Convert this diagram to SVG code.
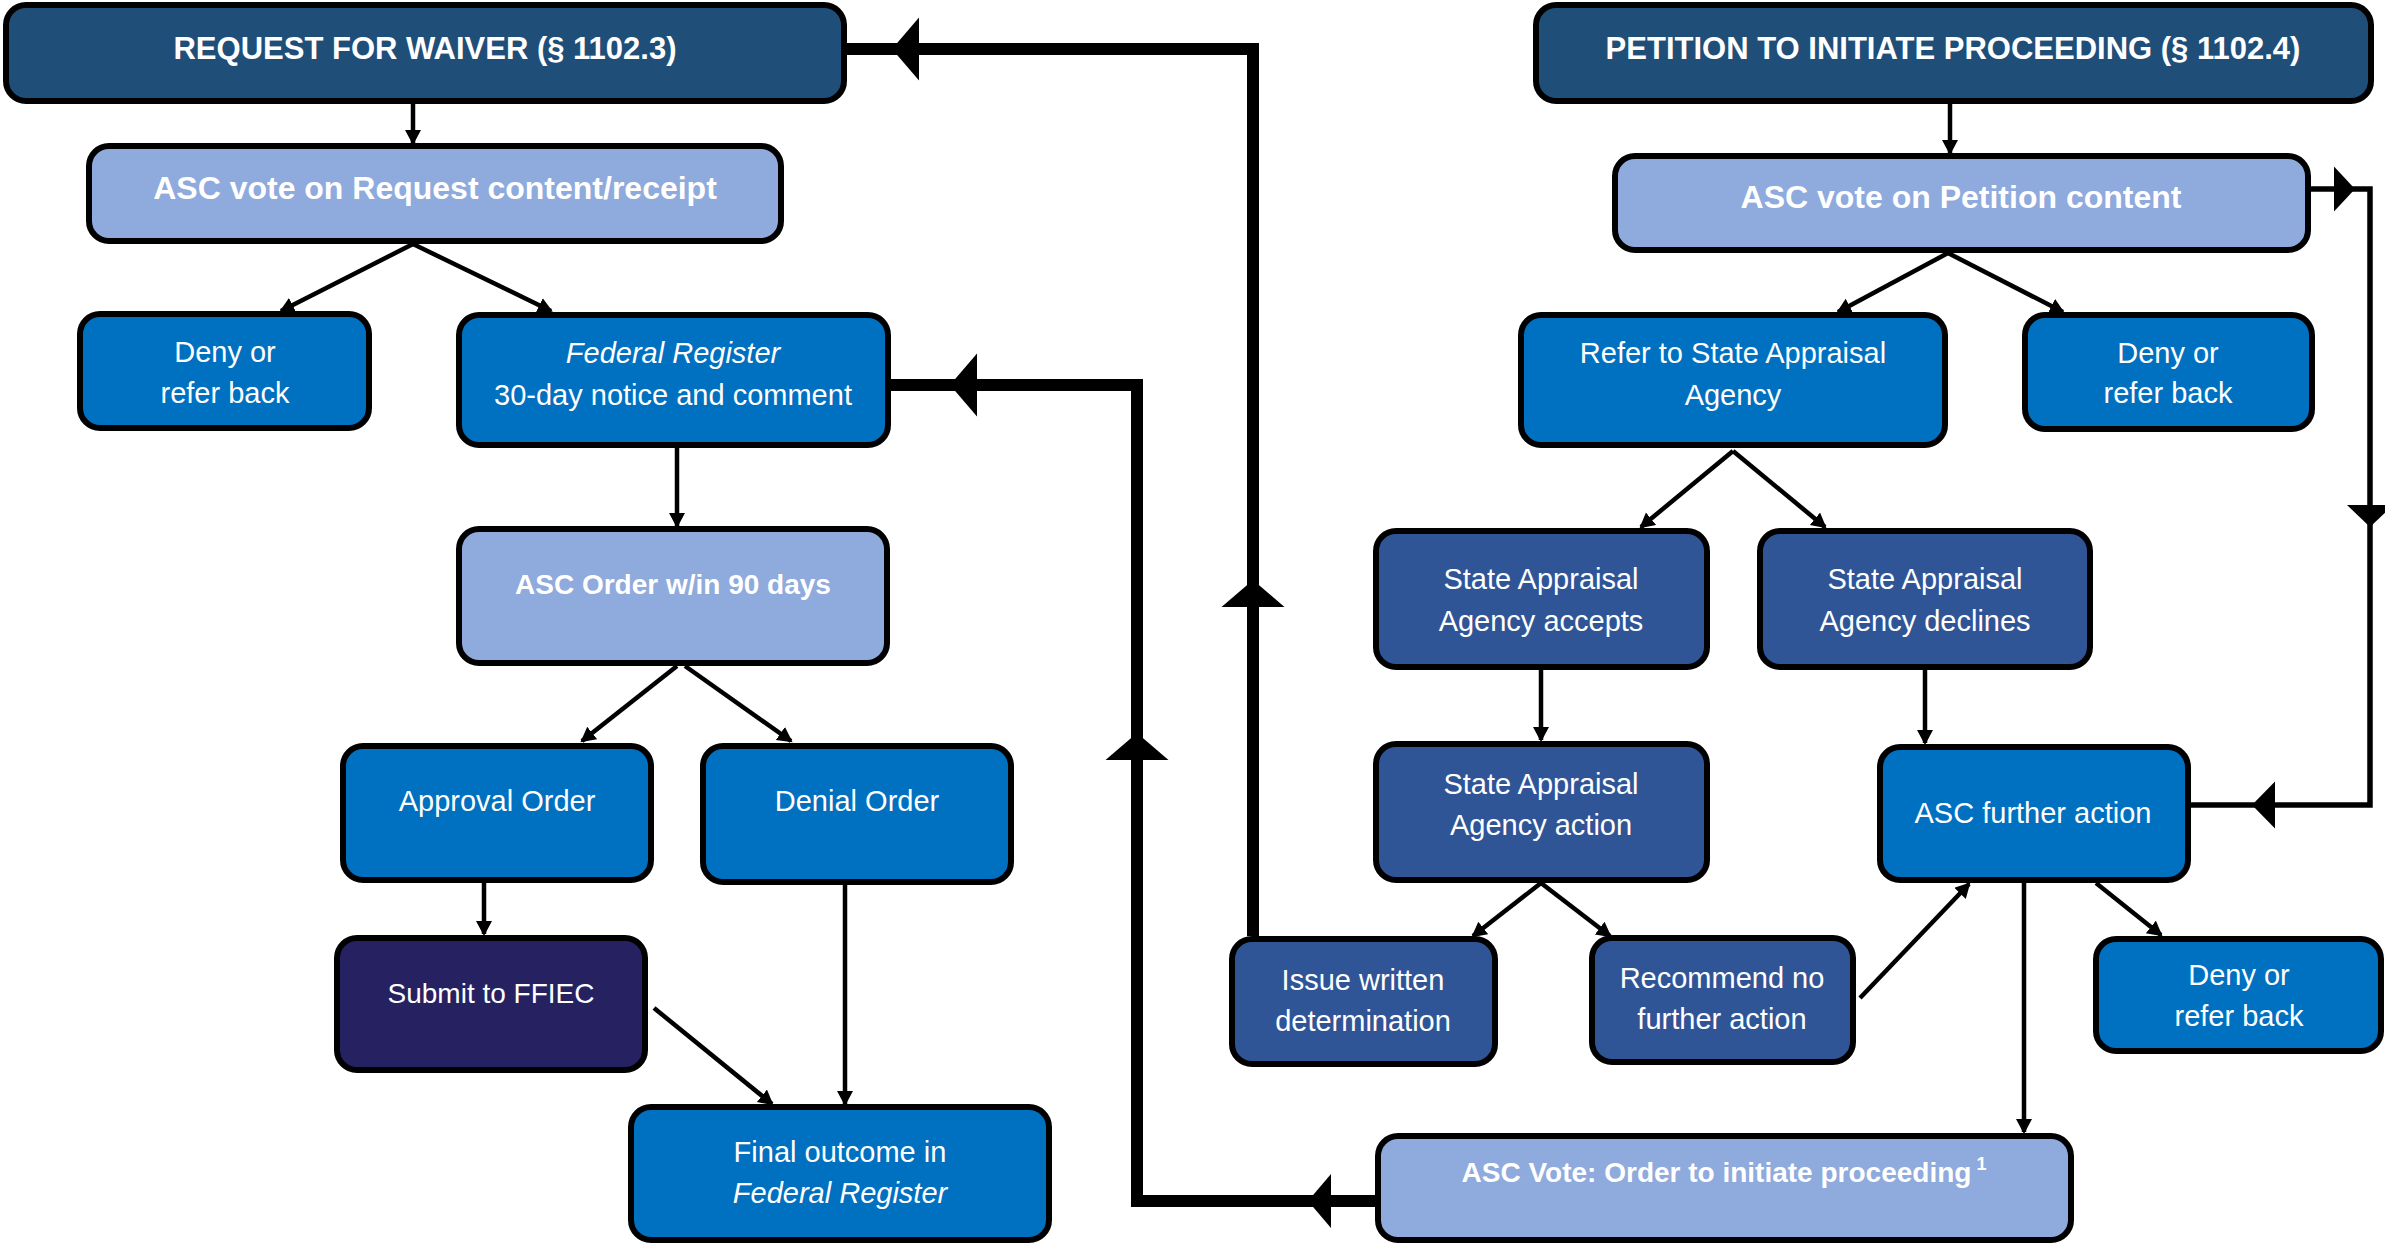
<svg xmlns="http://www.w3.org/2000/svg" width="2385" height="1246" viewBox="0 0 2385 1246">
<style>
.box{stroke:#000;stroke-width:6}
.c1{fill:#1F4E79}.c2{fill:#8FAADC}.c3{fill:#0070C0}.c4{fill:#2F5597}.c5{fill:#262262}
.t{font-family:"Liberation Sans",Arial,sans-serif;fill:#fff;text-anchor:middle;font-size:29px}
.b{font-weight:bold}
.i{font-style:italic}
.thin{stroke:#000;stroke-width:4.5;fill:none;marker-end:url(#ah)}
.mid{stroke:#000;stroke-width:5.5;fill:none}
.thick{stroke:#000;stroke-width:12;fill:none}
.head{fill:#000}
</style>
<defs>
<marker id="ah" markerUnits="userSpaceOnUse" markerWidth="16" markerHeight="18" refX="13" refY="8" orient="auto">
<path d="M0,0 L15,8 L0,16 z" fill="#000"/>
</marker>
</defs>
<rect width="2385" height="1246" fill="#fff"/>
<g id="connectors">
<line class="thin" x1="413" y1="104" x2="413" y2="143"/>
<line class="thin" x1="413" y1="244" x2="281" y2="311"/>
<line class="thin" x1="413" y1="244" x2="551" y2="311"/>
<line class="thin" x1="677" y1="448" x2="677" y2="526"/>
<line class="thin" x1="677" y1="666" x2="582" y2="741"/>
<line class="thin" x1="685" y1="666" x2="791" y2="741"/>
<line class="thin" x1="484" y1="883" x2="484" y2="934"/>
<line class="thin" x1="654" y1="1008" x2="772" y2="1104"/>
<line class="thin" x1="845" y1="885" x2="845" y2="1104"/>
<line class="thin" x1="1950" y1="104" x2="1950" y2="153"/>
<line class="thin" x1="1948" y1="253" x2="1838" y2="312"/>
<line class="thin" x1="1948" y1="253" x2="2063" y2="312"/>
<line class="thin" x1="1733" y1="451" x2="1641" y2="527"/>
<line class="thin" x1="1733" y1="451" x2="1825" y2="527"/>
<line class="thin" x1="1541" y1="664" x2="1541" y2="740"/>
<line class="thin" x1="1925" y1="670" x2="1925" y2="743"/>
<line class="thin" x1="1541" y1="883" x2="1473" y2="936"/>
<line class="thin" x1="1541" y1="883" x2="1610" y2="936"/>
<line class="thin" x1="1860" y1="998" x2="1969" y2="884"/>
<line class="thin" x1="2024" y1="883" x2="2024" y2="1132"/>
<line class="thin" x1="2096" y1="883" x2="2161" y2="935"/>
<path class="mid" d="M2311 189 H2370 V805 H2191"/>
<polygon class="head" points="2355,189 2334,166.5 2334,211.5"/>
<polygon class="head" points="2370,527 2347,505 2393,505"/>
<polygon class="head" points="2252,805 2275,781.5 2275,828.5"/>
<path class="thick" d="M1253 936 V49 H847"/>
<polygon class="head" points="1253,580 1221.5,607 1284.5,607"/>
<polygon class="head" points="892,49 919,17.5 919,80.5"/>
<path class="thick" d="M1375 1201 H1137 V385 H891"/>
<polygon class="head" points="1308,1201 1331,1174 1331,1228"/>
<polygon class="head" points="1137,733 1105.5,760 1168.5,760"/>
<polygon class="head" points="950,385 977,353.5 977,416.5"/>
</g>
<g id="req"><rect class="box c1" x="6" y="5" width="838" height="96" rx="20"/><text class="t b" x="425" y="59" style="font-size:31px">REQUEST FOR WAIVER (§ 1102.3)</text></g>
<g id="ascReq"><rect class="box c2" x="89" y="146" width="692" height="95" rx="20"/><text class="t b" x="435" y="199" style="font-size:32px">ASC vote on Request content/receipt</text></g>
<g id="deny1"><rect class="box c3" x="80" y="314" width="289" height="114" rx="20"/><text class="t" x="225" y="362">Deny or</text><text class="t" x="225" y="403">refer back</text></g>
<g id="fedreg"><rect class="box c3" x="459" y="315" width="429" height="130" rx="20"/><text class="t i" x="673" y="363">Federal Register</text><text class="t" x="673" y="405">30-day notice and comment</text></g>
<g id="ascOrder"><rect class="box c2" x="459" y="529" width="428" height="134" rx="20"/><text class="t b" x="673" y="594" style="font-size:28px">ASC Order w/in 90 days</text></g>
<g id="approval"><rect class="box c3" x="343" y="746" width="308" height="134" rx="20"/><text class="t" x="497" y="811">Approval Order</text></g>
<g id="denial"><rect class="box c3" x="703" y="746" width="308" height="136" rx="20"/><text class="t" x="857" y="811">Denial Order</text></g>
<g id="submit"><rect class="box c5" x="337" y="938" width="308" height="132" rx="20"/><text class="t" x="491" y="1003" style="font-size:28px">Submit to FFIEC</text></g>
<g id="final"><rect class="box c3" x="631" y="1107" width="418" height="133" rx="20"/><text class="t" x="840" y="1162">Final outcome in</text><text class="t i" x="840" y="1203">Federal Register</text></g>
<g id="petition"><rect class="box c1" x="1536" y="5" width="835" height="96" rx="20"/><text class="t b" x="1953" y="59" style="font-size:31px">PETITION TO INITIATE PROCEEDING (§ 1102.4)</text></g>
<g id="ascPet"><rect class="box c2" x="1615" y="156" width="693" height="94" rx="20"/><text class="t b" x="1961" y="208" style="font-size:32px">ASC vote on Petition content</text></g>
<g id="refer"><rect class="box c3" x="1521" y="315" width="424" height="130" rx="20"/><text class="t" x="1733" y="363">Refer to State Appraisal</text><text class="t" x="1733" y="405">Agency</text></g>
<g id="deny2"><rect class="box c3" x="2025" y="315" width="287" height="114" rx="20"/><text class="t" x="2168" y="363">Deny or</text><text class="t" x="2168" y="403">refer back</text></g>
<g id="accepts"><rect class="box c4" x="1376" y="531" width="331" height="136" rx="20"/><text class="t" x="1541" y="589">State Appraisal</text><text class="t" x="1541" y="631">Agency accepts</text></g>
<g id="declines"><rect class="box c4" x="1760" y="531" width="330" height="136" rx="20"/><text class="t" x="1925" y="589">State Appraisal</text><text class="t" x="1925" y="631">Agency declines</text></g>
<g id="action"><rect class="box c4" x="1376" y="744" width="331" height="136" rx="20"/><text class="t" x="1541" y="794">State Appraisal</text><text class="t" x="1541" y="835">Agency action</text></g>
<g id="further"><rect class="box c3" x="1880" y="747" width="308" height="133" rx="20"/><text class="t" x="2033" y="823">ASC further action</text></g>
<g id="issue"><rect class="box c4" x="1232" y="939" width="263" height="125" rx="20"/><text class="t" x="1363" y="990">Issue written</text><text class="t" x="1363" y="1031">determination</text></g>
<g id="recommend"><rect class="box c4" x="1592" y="938" width="261" height="124" rx="20"/><text class="t" x="1722" y="988">Recommend no</text><text class="t" x="1722" y="1029">further action</text></g>
<g id="deny3"><rect class="box c3" x="2096" y="939" width="285" height="112" rx="20"/><text class="t" x="2239" y="985">Deny or</text><text class="t" x="2239" y="1026">refer back</text></g>
<g id="ascVote"><rect class="box c2" x="1378" y="1136" width="693" height="104" rx="20"/><text class="t b" x="1724" y="1182" style="font-size:28px">ASC Vote: Order to initiate proceeding<tspan dx="5" dy="-12" style="font-size:18px">1</tspan></text></g>
</svg>
